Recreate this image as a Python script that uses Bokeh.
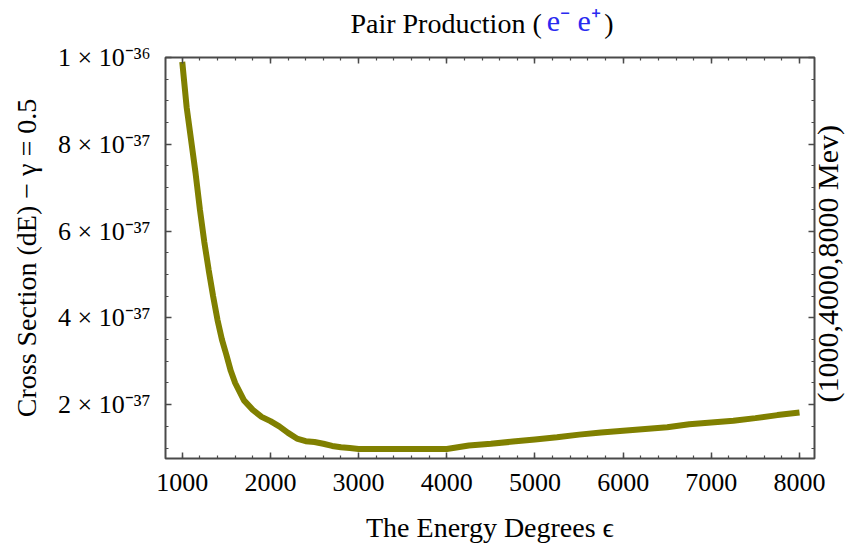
import math
from bokeh.plotting import figure
from bokeh.models import Range1d, LinearAxis, FixedTicker
from bokeh.embed import file_html
from bokeh.resources import INLINE

# ---- data ----
energy = [1000, 1050, 1100, 1150, 1200, 1250, 1300, 1350, 1400, 1450, 1500, 1550,
          1600, 1700, 1800, 1900, 2000, 2100, 2200, 2300, 2400, 2500, 2600, 2700,
          2800, 2900, 3000, 3500, 4000, 4250, 4500, 4750, 5000, 5250, 5500, 5750,
          6000, 6250, 6500, 6750, 7000, 7250, 7500, 7750, 8000]
# cross section in units of 1e-37
cross_section_1e37 = [9.9, 8.85, 8.1, 7.35, 6.5, 5.75, 5.1, 4.5, 3.95, 3.5, 3.15, 2.78,
                      2.5, 2.1, 1.88, 1.72, 1.62, 1.5, 1.35, 1.22, 1.16, 1.14, 1.1, 1.05,
                      1.02, 1.0, 0.98, 0.98, 0.98, 1.06, 1.1, 1.15, 1.2, 1.25, 1.31, 1.36,
                      1.4, 1.44, 1.48, 1.55, 1.59, 1.63, 1.69, 1.76, 1.82]

x_ticks = [1000, 2000, 3000, 4000, 5000, 6000, 7000, 8000]
y_ticks = [2, 4, 6, 8, 10]
y_tick_labels = ["2 × 10⁻³⁷", "4 × 10⁻³⁷", "6 × 10⁻³⁷", "8 × 10⁻³⁷", "1 × 10⁻³⁶"]
title_black = "Pair Production ("
title_blue = "e⁻ e⁺"
title_close = ")"
x_label = "The Energy Degrees ϵ"
y_label = "Cross Section (dE) − γ = 0.5"
right_label = "(1000,4000,8000 Mev)"

FONT = "Liberation Serif"
FRAME = "#4a4a4a"
X0, X1 = 810, 8170
Y0, Y1 = 0.76, 10.0
W, H = 863, 545
BL, BR, BT, BB = 165, 48, 57, 87
FW = W - BL - BR
FH = H - BT - BB

def px_to_x(px):
    # page pixel -> data x (used only to anchor text pieces)
    return X0 + (px - BL) / FW * (X1 - X0)

def py_to_y(py):
    # page pixel -> data y (used only to anchor text pieces)
    return Y1 - (py - BT) / FH * (Y1 - Y0)

p = figure(width=W, height=H, output_backend="svg", toolbar_location=None,
           x_range=Range1d(X0, X1), y_range=Range1d(Y0, Y1))
p.min_border_left = BL
p.min_border_right = BR
p.min_border_top = BT
p.min_border_bottom = BB
p.background_fill_color = "white"
p.border_fill_color = "white"
p.outline_line_color = FRAME
p.outline_line_width = 2
p.xgrid.visible = False
p.ygrid.visible = False

p.line(energy, cross_section_1e37, line_color="#808000", line_width=6)

x_minor = list(range(1000, 8001, 200))
y_minor = [v / 2 for v in range(2, 21)]

def style(ax):
    ax.axis_line_color = None
    ax.major_tick_in = 6
    ax.major_tick_out = 0
    ax.minor_tick_in = 3
    ax.minor_tick_out = 0
    ax.major_tick_line_color = FRAME
    ax.minor_tick_line_color = FRAME
    ax.major_tick_line_width = 1.5
    ax.minor_tick_line_width = 1.2
    ax.major_label_text_font = FONT
    ax.major_label_text_color = "black"
    ax.axis_label_text_font = FONT
    ax.axis_label_text_font_style = "normal"
    ax.axis_label_text_color = "black"

def text_axis(ticks, texts, color, standoff, size="28px", orientation="horizontal"):
    ax = LinearAxis(ticker=FixedTicker(ticks=ticks, minor_ticks=[]))
    ax.axis_line_color = None
    ax.major_tick_line_color = None
    ax.minor_tick_line_color = None
    ax.major_tick_in = 0
    ax.major_tick_out = 0
    ax.major_label_overrides = {t: s for t, s in zip(ticks, texts)}
    ax.major_label_text_font = FONT
    ax.major_label_text_font_size = size
    ax.major_label_text_color = color
    ax.major_label_standoff = standoff
    ax.major_label_orientation = orientation
    return ax

# bottom
bx = p.xaxis[0]
style(bx)
bx.ticker = FixedTicker(ticks=x_ticks, minor_ticks=x_minor)
bx.major_label_text_font_size = "26px"
bx.major_label_standoff = 15
bx.axis_label = x_label
bx.axis_label_text_font_size = "28px"
bx.axis_label_standoff = 18

# left
ly = p.yaxis[0]
style(ly)
ly.ticker = FixedTicker(ticks=y_ticks, minor_ticks=y_minor)
ly.major_label_overrides = {t: s for t, s in zip(y_ticks, y_tick_labels)}
ly.major_label_text_font_size = "26px"
ly.major_label_standoff = 15
ly.axis_label = y_label
ly.axis_label_text_font_size = "28px"
ly.axis_label_standoff = 13

# top (ticks only)
tx = LinearAxis(ticker=FixedTicker(ticks=x_ticks, minor_ticks=x_minor))
style(tx)
tx.major_label_overrides = {t: "" for t in x_ticks}
tx.major_label_standoff = 0
p.add_layout(tx, "above")

# title pieces, drawn as labels of tick-less top axes
t_black = [px_to_x(446), px_to_x(609)]
p.add_layout(text_axis(t_black, [title_black, title_close], "black", 19), "above")
p.add_layout(text_axis([px_to_x(574)], [title_blue], "#2a2af0", -32, "30px"), "above")

# right (ticks only)
ry = LinearAxis(ticker=FixedTicker(ticks=y_ticks, minor_ticks=y_minor))
style(ry)
ry.major_label_overrides = {t: "" for t in y_ticks}
ry.major_label_standoff = 0
p.add_layout(ry, "right")

# right-side label reading bottom to top (starts at its anchor)
p.add_layout(text_axis([py_to_y(402)], [right_label], "black", 13, "30px", math.pi / 2), "right")

open("out.html", "w").write(file_html(p, INLINE))
